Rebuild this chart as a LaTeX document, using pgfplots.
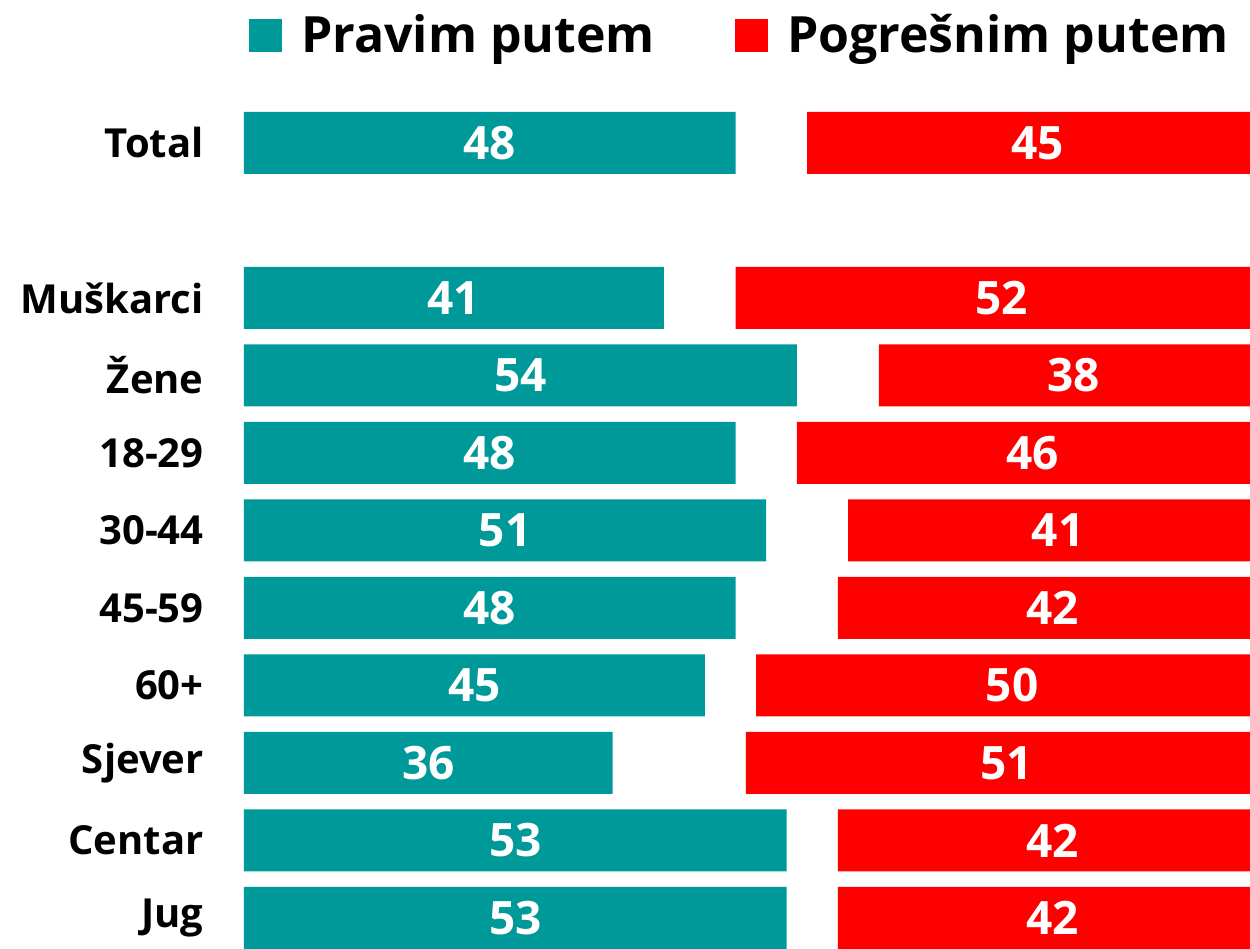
\documentclass[border=0pt]{standalone}
\usepackage{pgfplots}
\pgfplotsset{compat=1.18}
\usepackage{pgfplotstable}
\usepackage{fontspec}
\setmainfont{Open Sans}
\definecolor{tealc}{RGB}{0,153,153}
\definecolor{redc}{RGB}{255,0,0}
\pgfplotstableread{
y p n
10 48 45
8 41 52
7 54 38
6 48 46
5 51 41
4 48 42
3 45 50
2 36 51
1 53 42
0 53 42
}\data
\pgfplotsset{
  common/.style={
    scale only axis,
    width=503pt, height=474.5pt,
    xmin=0, xmax=98.24,
    ymin=-0.4, ymax=11.845,
  }
}
\begin{document}
\begin{tikzpicture}
\begin{axis}[
  common,
  xbar stacked,
  bar width=31pt,
  axis line style={draw=none},
  xtick=\empty,
  ytick={0,1,2,3,4,5,6,7,8,10},
  yticklabels={Jug,Centar,Sjever,60+,45-59,30-44,18-29,Žene,Muškarci,Total},
  major tick length=0pt,
  yticklabel style={font=\bfseries\fontsize{20}{23}\selectfont, inner sep=0pt, anchor=east, xshift=-20pt},
  legend columns=2,
  legend style={at={(rel axis cs:0.494,0.963)}, anchor=center, draw=none, fill=none,
    font=\bfseries\fontsize{25}{30}\selectfont, inner sep=0pt,
    /tikz/every even column/.append style={column sep=38pt},
    /tikz/every odd column/.append style={column sep=7.5pt}},
  legend image code/.code={\path[#1] (0pt,-8.25pt) rectangle (16.5pt,8.25pt);},
]
\addplot[fill=tealc, draw=none] table[x=p, y=y]{\data};
\addlegendentry{Pravim putem}
\addplot[draw=none, fill=none, forget plot]
  table[x expr=100-\thisrow{p}-\thisrow{n}, y=y]{\data};
\addplot[fill=redc, draw=none] table[x=n, y=y]{\data};
\addlegendentry{Pogrešnim putem}
\end{axis}
\begin{axis}[
  common,
  hide axis,
  every node near coord/.append style={anchor=center, text=white, inner sep=0pt, font=\bfseries\fontsize{23}{27}\selectfont},
]
\addplot[draw=none, mark=none, nodes near coords={\pgfplotspointmeta}, point meta=explicit symbolic]
  table[x expr=\thisrow{p}/2, y=y, meta=p]{\data};
\addplot[draw=none, mark=none, nodes near coords={\pgfplotspointmeta}, point meta=explicit symbolic]
  table[x expr=100-\thisrow{n}/2, y=y, meta=n]{\data};
\end{axis}
\pgfresetboundingbox
\path (-122pt,0pt) rectangle (503pt,474.5pt);
\end{tikzpicture}
\end{document}
